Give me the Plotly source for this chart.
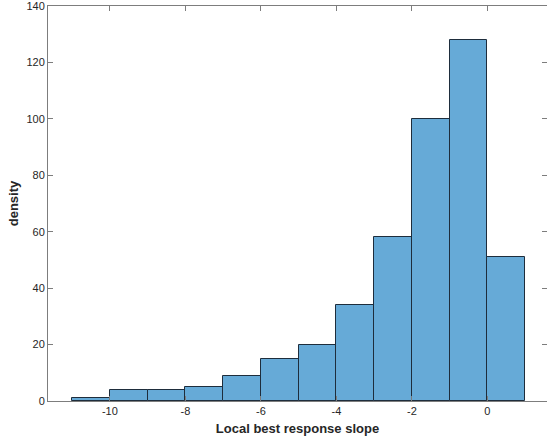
import plotly.graph_objects as go

bin_edges = [-11, -10, -9, -8, -7, -6, -5, -4, -3, -2, -1, 0, 1]
counts = [1, 4, 4, 5, 9, 15, 20, 34, 58, 100, 128, 51]
x_ticks = [-10, -8, -6, -4, -2, 0]
x_tick_labels = ["-10", "-8", "-6", "-4", "-2", "0"]
y_ticks = [0, 20, 40, 60, 80, 100, 120, 140]
y_tick_labels = ["0", "20", "40", "60", "80", "100", "120", "140"]

centers = [(a + b) / 2 for a, b in zip(bin_edges[:-1], bin_edges[1:])]
widths = [b - a for a, b in zip(bin_edges[:-1], bin_edges[1:])]

fig = go.Figure(go.Bar(
    x=centers, y=counts, width=widths,
    marker=dict(color="rgb(102,170,215)", line=dict(color="rgb(30,45,60)", width=1)),
))

axis_common = dict(
    showgrid=False, zeroline=False, showline=True, linecolor="rgb(125,125,125)", linewidth=1,
    mirror="ticks", ticks="inside", ticklen=5, tickcolor="rgb(125,125,125)",
    ticklabeloverflow="allow",
    tickfont=dict(family="Liberation Sans, Arial, sans-serif", size=11, color="rgb(38,38,38)"),
)

fig.update_layout(
    width=547, height=442,
    margin=dict(l=48, r=0, t=6, b=41),
    paper_bgcolor="white", plot_bgcolor="white",
    showlegend=False,
    bargap=0,
    xaxis=dict(range=[-11.64, 1.58], tickvals=x_ticks, ticktext=x_tick_labels,
               title=dict(text="<b>Local best response slope</b>", standoff=7,
                          font=dict(family="Liberation Sans, Arial, sans-serif", size=13, color="rgb(38,38,38)")),
               **axis_common),
    yaxis=dict(range=[0, 140.02], tickvals=y_ticks, ticktext=y_tick_labels,
               title=dict(text="<b>density</b>", standoff=4,
                          font=dict(family="Liberation Sans, Arial, sans-serif", size=13, color="rgb(38,38,38)")),
               **axis_common),
)

fig.write_html("out.html")
